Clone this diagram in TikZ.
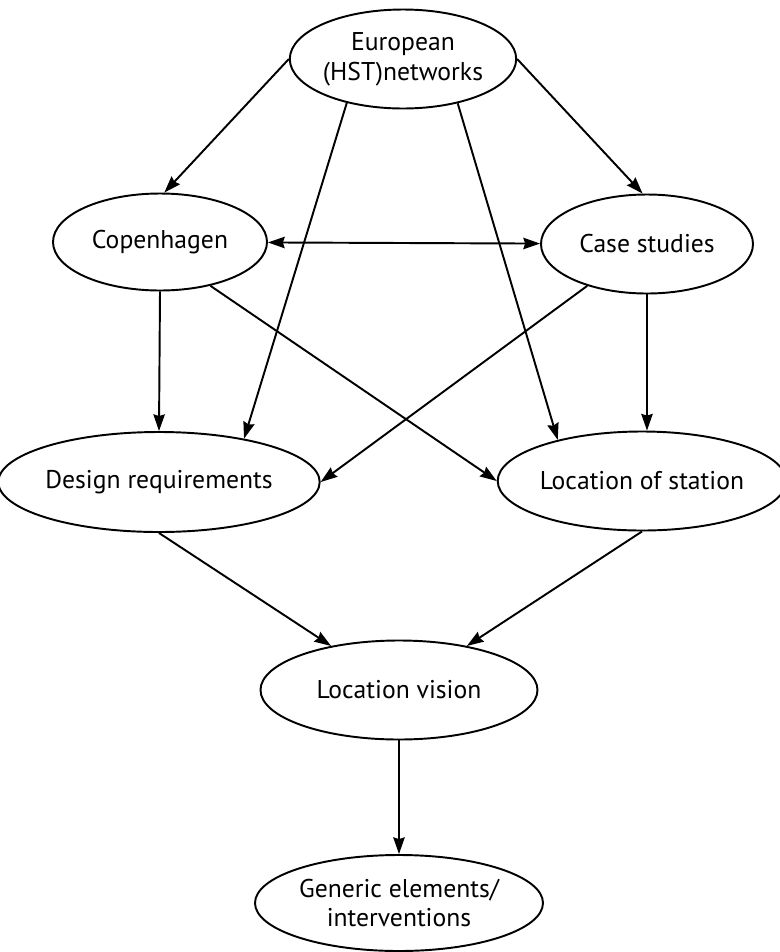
\documentclass[tikz,border=0pt]{standalone}
\usepackage{fontspec}
\setmainfont{PT Sans}
\usetikzlibrary{shapes.geometric,arrows.meta}

\begin{document}
\begin{tikzpicture}[line width=1.1pt,
  ell/.style={draw,ellipse,inner sep=0,align=center,font=\fontsize{14.6}{17}\selectfont},
  >={Stealth[length=9.5pt,width=6.5pt,inset=1pt]}]
  \useasboundingbox (0,0) rectangle (15.6,-19.04);

  \node (euro) at (8.06,-1.18) [ell,minimum width=4.28cm,minimum height=1.98cm]{European\\(HST)networks};

  \node (cph) at (3.20,-4.84) [ell,minimum width=4.28cm,minimum height=1.94cm]{Copenhagen};
  \node (case) at (12.94,-4.88) [ell,minimum width=4.24cm,minimum height=1.98cm]{Case studies};

  \node (req) at (3.18,-9.64) [ell,minimum width=5.52cm,minimum height=2cm]{Design requirements};
  \node (loc) at (12.84,-9.62) [ell,minimum width=5.48cm,minimum height=1.98cm]{Location of station};

  \node (vision) at (7.98,-13.80) [ell,minimum width=5.54cm,minimum height=1.98cm]{Location vision};
  \node (gen) at (7.98,-18.06) [ell,minimum width=5.76cm,minimum height=1.92cm]{Generic elements/\\interventions};


  \draw[->] (euro.west) -- (cph.85);
  \draw[->] (euro.east) -- (case.95);
  \draw[->] (euro.218) -- (req.27);
  \draw[->] (euro.321) -- (loc.154);

  \draw[<->] (cph) -- (case);

  \draw[->] (cph.south) -- (req.north);
  \draw[->] (cph.-41) -- (loc.west);
  \draw[->] (case.215) -- (req.east);
  \draw[->] (case.south) -- (case.south |- loc.north);

  \draw[->] (req.south) -- (vision.147);
  \draw[->] (loc.south) -- (vision.33);

  \draw[->] (vision) -- (gen);

\end{tikzpicture}
\end{document}
